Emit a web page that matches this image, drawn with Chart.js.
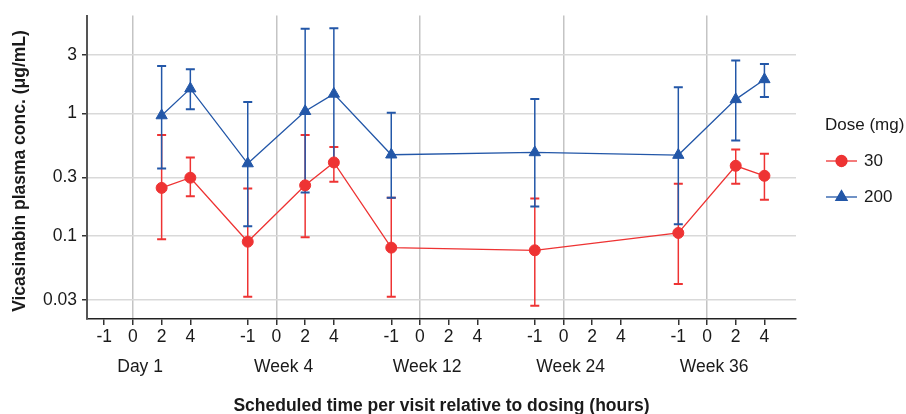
<!DOCTYPE html>
<html>
<head>
<meta charset="utf-8">
<script src="https://cdn.jsdelivr.net/npm/chart.js@4.4.1/dist/chart.umd.min.js"></script>
<style>
  html, body { margin: 0; padding: 0; background: #fff; }
  canvas { display: block; }
</style>
</head>
<body>
<canvas id="pkChart" width="906" height="414"></canvas>
<script>
//----- DATA -----
var visits = ['Day 1', 'Week 4', 'Week 12', 'Week 24', 'Week 36'];
var hourLabels = ['-1', '0', '2', '4'];
var hourSlots = [-1, 0, 1, 2];        // slot of each hour label inside a visit
var visitGap = 5;                      // slots between visits
var yTicks = [0.03, 0.1, 0.3, 1, 3];

// sampling points (visit index + scheduled hour)
var pointVisit = [0, 0, 1, 1, 1, 2, 3, 4, 4, 4];
var pointHour  = ['2', '4', '-1', '2', '4', '-1', '-1', '-1', '2', '4'];

// 30 mg
var mean30 = [0.247, 0.299, 0.090, 0.259, 0.398, 0.0805, 0.0766, 0.106, 0.374, 0.310];
var low30  = [0.094, 0.211, 0.032, 0.0976, 0.277, 0.032, 0.0271, 0.0406, 0.267, 0.198];
var high30 = [0.667, 0.437, 0.244, 0.667, 0.533, 0.205, 0.202, 0.267, 0.507, 0.468];

// 200 mg
var mean200 = [0.96, 1.59, 0.39, 1.04, 1.44, 0.46, 0.48, 0.457, 1.30, 1.89];
var low200  = [0.356, 1.08, 0.12, 0.227, 0.405, 0.205, 0.174, 0.125, 0.60, 1.36];
var high200 = [2.43, 2.29, 1.24, 4.89, 4.94, 1.01, 1.31, 1.63, 2.70, 2.52];

var red = '#EE3333';
var blue = '#2357A8';
var fontFamily = "'Liberation Sans', Arial, sans-serif";

//----- HELPERS -----
function xPos(visit, hour)
{
     return visit * visitGap + hourSlots[hourLabels.indexOf(hour)];
}
function makePoints(values)
{
     return values.map(function(v, i) {
          return { x: xPos(pointVisit[i], pointHour[i]), y: v };
     });
}
var xTicks = [];
visits.forEach(function(v, i) {
     hourSlots.forEach(function(s) { xTicks.push(i * visitGap + s); });
});

//----- PLUGINS -----
var errorBars = {
     id: 'errorBars',
     beforeDatasetsDraw: function(chart) {
          var ctx = chart.ctx;
          var yScale = chart.scales.y;
          chart.data.datasets.forEach(function(ds, i) {
               var meta = chart.getDatasetMeta(i);
               ctx.save();
               ctx.strokeStyle = ds.borderColor;
               meta.data.forEach(function(pt, j) {
                    var yLo = yScale.getPixelForValue(ds.errLow[j]);
                    var yHi = yScale.getPixelForValue(ds.errHigh[j]);
                    ctx.lineWidth = 1.5;
                    ctx.beginPath();
                    ctx.moveTo(pt.x, yLo);
                    ctx.lineTo(pt.x, yHi);
                    ctx.stroke();
                    ctx.lineWidth = 2;
                    ctx.beginPath();
                    ctx.moveTo(pt.x - 4.5, yLo); ctx.lineTo(pt.x + 4.5, yLo);
                    ctx.moveTo(pt.x - 4.5, yHi); ctx.lineTo(pt.x + 4.5, yHi);
                    ctx.stroke();
               });
               ctx.restore();
          });
     }
};

var extraText = {
     id: 'extraText',
     afterDraw: function(chart) {
          var ctx = chart.ctx;
          var xScale = chart.scales.x;
          var area = chart.chartArea;
          ctx.save();
          ctx.fillStyle = '#1a1a1a';
          ctx.textBaseline = 'middle';
          // visit names under the hour ticks
          ctx.font = '17.5px ' + fontFamily;
          ctx.textAlign = 'center';
          visits.forEach(function(v, i) {
               ctx.fillText(v, xScale.getPixelForValue(i * visitGap + 0.25), 367);
          });
          // axis titles
          ctx.font = 'bold 17.5px ' + fontFamily;
          ctx.fillText('Scheduled time per visit relative to dosing (hours)', (area.left + area.right) / 2, 406);
          ctx.save();
          ctx.translate(20.5, 171);
          ctx.rotate(-Math.PI / 2);
          ctx.fillText('Vicasinabin plasma conc. (\u03bcg/mL)', 0, 0);
          ctx.restore();
          // legend
          ctx.font = '17px ' + fontFamily;
          ctx.textAlign = 'left';
          ctx.fillText('Dose (mg)', 825, 125);
          var rowY = [161, 197];
          chart.data.datasets.forEach(function(ds, i) {
               var y = rowY[i];
               ctx.strokeStyle = ds.borderColor;
               ctx.lineWidth = 1.3;
               ctx.beginPath();
               ctx.moveTo(826, y); ctx.lineTo(857, y);
               ctx.stroke();
               Chart.helpers.drawPoint(ctx, {
                    pointStyle: ds.pointStyle, radius: ds.pointRadius, borderWidth: 1, rotation: 0
               }, 841.5, y);
               ctx.fillStyle = ds.backgroundColor;
               ctx.fill();
               ctx.fillStyle = '#1a1a1a';
               ctx.fillText(ds.label, 864, y);
          });
          ctx.restore();
     }
};

//----- CHART -----
var chartCtx = document.getElementById('pkChart').getContext('2d');
var chart = new Chart(chartCtx, {
     type: 'line',
     data: {
          datasets: [
               {
                    label: '30',
                    data: makePoints(mean30),
                    errLow: low30,
                    errHigh: high30,
                    borderColor: red,
                    backgroundColor: red,
                    borderWidth: 1.3,
                    pointStyle: 'circle',
                    pointRadius: 5.5,
                    pointBorderWidth: 1,
                    tension: 0
               },
               {
                    label: '200',
                    data: makePoints(mean200),
                    errLow: low200,
                    errHigh: high200,
                    borderColor: blue,
                    backgroundColor: blue,
                    borderWidth: 1.3,
                    pointStyle: 'triangle',
                    pointRadius: 6.5,
                    pointBorderWidth: 1,
                    tension: 0
               }
          ]
     },
     options: {
          responsive: false,
          animation: false,
          devicePixelRatio: 1,
          layout: { padding: { top: 14, right: 110, bottom: 0, left: 0 } },
          plugins: {
               legend: { display: false },
               tooltip: { enabled: false }
          },
          scales: {
               x: {
                    type: 'linear',
                    min: -1.6,
                    max: 23.1,
                    afterBuildTicks: function(s) {
                         s.ticks = xTicks.map(function(v) { return { value: v }; });
                    },
                    afterFit: function(s) { s.height = 95; },
                    ticks: {
                         autoSkip: false,
                         maxRotation: 0,
                         padding: 2,
                         color: '#1a1a1a',
                         font: { family: fontFamily, size: 17.5 },
                         callback: function(val) {
                              var slot = ((val % visitGap) + visitGap) % visitGap;
                              if (slot === visitGap - 1) slot = -1;
                              return hourLabels[hourSlots.indexOf(slot)];
                         }
                    },
                    grid: {
                         color: function(c) {
                              return (c.tick && c.tick.value % visitGap === 0) ? '#c4c4c4' : 'rgba(0,0,0,0)';
                         },
                         lineWidth: 1.5,
                         tickColor: '#333',
                         tickWidth: 1.5,
                         tickLength: 6
                    },
                    border: { color: '#222', width: 1.5 }
               },
               y: {
                    type: 'logarithmic',
                    min: 0.0211,
                    max: 6.27,
                    afterBuildTicks: function(s) {
                         s.ticks = yTicks.map(function(v) { return { value: v }; });
                    },
                    afterFit: function(s) { s.width = 87; },
                    ticks: {
                         padding: 5,
                         color: '#1a1a1a',
                         font: { family: fontFamily, size: 17.5 },
                         callback: function(val) { return String(val); }
                    },
                    grid: {
                         color: '#d9d9d9',
                         lineWidth: 1.5,
                         tickColor: '#333',
                         tickWidth: 1.5,
                         tickLength: 5
                    },
                    border: { color: '#555', width: 2 }
               }
          }
     },
     plugins: [errorBars, extraText]
});
</script>
</body>
</html>
